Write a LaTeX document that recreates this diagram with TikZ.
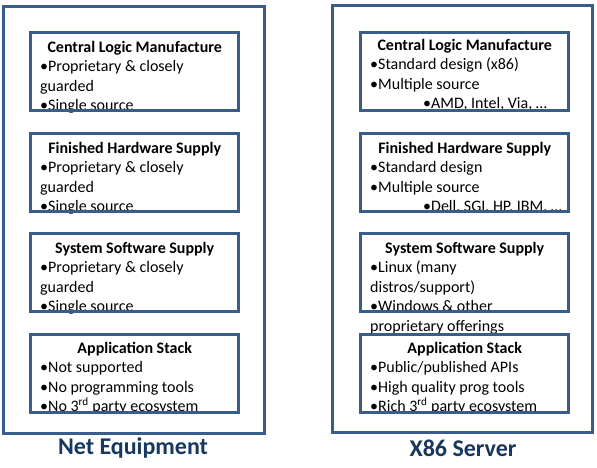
\documentclass[tikz,border=0pt]{standalone}
\usepackage{fontspec}
\setmainfont{Carlito}
\definecolor{edge}{HTML}{385D8A}
\definecolor{label}{HTML}{17375E}
\begin{document}
\begin{tikzpicture}[x=1pt,y=-1pt,
  outerbox/.style={draw=edge,line width=3pt,fill=white},
  innerbox/.style={draw=edge,line width=3pt},
  bodytext/.style={anchor=north west,inner sep=0pt,align=left,font=\fontsize{16}{19.5}\selectfont},
  caption/.style={font=\fontsize{24}{28}\selectfont\bfseries,text=label}]
\useasboundingbox (0,0) rectangle (597,467);
% outer boxes
\draw[outerbox] (3,6) rectangle (264.5,433);
\draw[outerbox] (332.5,5) rectangle (592.5,432);
\newcommand{\ttl}[1]{\makebox[189pt][c]{\bfseries #1}}
% left column texts
\node[bodytext] (l1t) at (40,41) {\ttl{Central Logic Manufacture}\\ •Proprietary \& closely\\ guarded\\ •Single source};
\node[bodytext] (l2t) at (40,142) {\ttl{Finished Hardware Supply}\\ •Proprietary \& closely\\ guarded\\ •Single source};
\node[bodytext] (l3t) at (40,242) {\ttl{System Software Supply}\\ •Proprietary \& closely\\ guarded\\ •Single source};
\node[bodytext] (l4t) at (40,342) {\ttl{Application Stack}\\ •Not supported\\ •No programming tools\\ •No 3\textsuperscript{rd} party ecosystem};
% right column texts
\node[bodytext] (r1t) at (370,39) {\ttl{Central Logic Manufacture}\\ •Standard design (x86)\\ •Multiple source\\ \hspace*{53pt}•AMD, Intel, Via, …};
\node[bodytext] (r2t) at (370,142) {\ttl{Finished Hardware Supply}\\ •Standard design\\ •Multiple source\\ \hspace*{53pt}•Dell, SGI, HP, IBM, …};
\node[bodytext] (r3t) at (370,242) {\ttl{System Software Supply}\\ •Linux (many\\ distros/support)\\ •Windows \& other\\ proprietary offerings};
\node[bodytext] (r4t) at (370,342) {\ttl{Application Stack}\\ •Public/published APIs\\ •High quality prog tools\\ •Rich 3\textsuperscript{rd} party ecosystem};
% inner boxes
\draw[innerbox] (30.5,32.5) rectangle (238.5,110);
\draw[innerbox] (30.5,133) rectangle (238.5,211);
\draw[innerbox] (30.5,233) rectangle (238.5,311);
\draw[innerbox] (30.5,334) rectangle (238.5,412.5);
\draw[innerbox] (360.5,32.5) rectangle (568.5,110);
\draw[innerbox] (360.5,133) rectangle (568.5,211);
\draw[innerbox] (360.5,233) rectangle (568.5,311);
\draw[innerbox] (360.5,334) rectangle (568.5,412.5);
% captions
\node[caption] (lcap) at (133,448) {Net Equipment};
\node[caption] (rcap) at (463,448) {X86 Server};
\end{tikzpicture}
\end{document}
